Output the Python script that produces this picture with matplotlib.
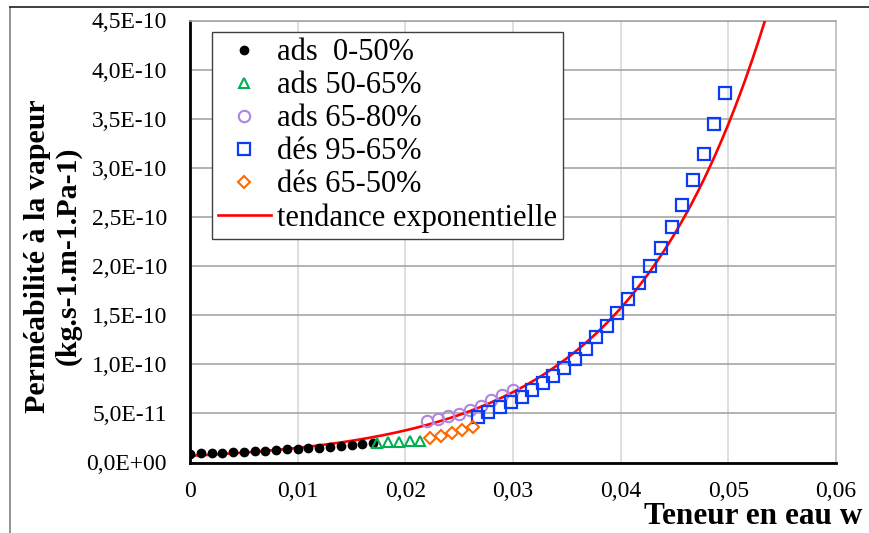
import numpy as np
import matplotlib
matplotlib.use('Agg')
import matplotlib.pyplot as plt
from matplotlib.lines import Line2D
from matplotlib.ticker import FixedLocator, FuncFormatter

plt.rcParams['font.family'] = ['Liberation Serif', 'DejaVu Serif']

### Data
# ads 0-50%
w_ads1 = [0.0, 0.001, 0.002, 0.003, 0.004, 0.005, 0.006, 0.007, 0.008,
          0.009, 0.010, 0.011, 0.012, 0.013, 0.014, 0.015, 0.016, 0.017]
p_ads1 = [8.7e-12, 9.4e-12, 9.7e-12, 1.00e-11, 1.04e-11, 1.10e-11, 1.17e-11, 1.20e-11, 1.27e-11,
          1.34e-11, 1.37e-11, 1.45e-11, 1.51e-11, 1.61e-11, 1.68e-11, 1.78e-11, 1.85e-11, 1.95e-11]

# ads 50-65%
w_ads2 = [0.0174, 0.0184, 0.0194, 0.0204, 0.0214]
p_ads2 = [2.0e-11, 2.05e-11, 2.1e-11, 2.15e-11, 2.2e-11]

# ads 65-80%
w_ads3 = [0.0220, 0.0230, 0.0240, 0.0250, 0.0260, 0.0270, 0.0280, 0.0290, 0.0300]
p_ads3 = [4.2e-11, 4.45e-11, 4.7e-11, 4.95e-11, 5.35e-11, 5.75e-11, 6.4e-11, 6.9e-11, 7.4e-11]

# des 95-65%
w_des1 = [0.02677, 0.02770, 0.02878, 0.02978, 0.03080, 0.03178, 0.03280, 0.03373,
          0.03472, 0.03575, 0.03674, 0.03774, 0.03874, 0.03967, 0.04070, 0.04169,
          0.04271, 0.04373, 0.04473, 0.04571, 0.04670, 0.04770, 0.04865, 0.04970]
p_des1 = [4.66e-11, 5.14e-11, 5.62e-11, 6.19e-11, 6.70e-11, 7.38e-11, 8.06e-11, 8.81e-11,
          9.65e-11, 1.054e-10, 1.152e-10, 1.278e-10, 1.392e-10, 1.524e-10, 1.667e-10, 1.830e-10,
          2.000e-10, 2.187e-10, 2.397e-10, 2.624e-10, 2.873e-10, 3.141e-10, 3.446e-10, 3.765e-10]

# des 65-50%
w_des2 = [0.0223, 0.0233, 0.0243, 0.0253, 0.0263]
p_des2 = [2.46e-11, 2.70e-11, 2.97e-11, 3.31e-11, 3.64e-11]

# exponential trend  P = a * exp(b * w)
trend_a = 6.8e-12
trend_b = 78.5

x_ticks = [0, 0.01, 0.02, 0.03, 0.04, 0.05, 0.06]
y_ticks = [0, 5e-11, 1e-10, 1.5e-10, 2e-10, 2.5e-10, 3e-10, 3.5e-10, 4e-10, 4.5e-10]


def fr_x(v, pos):
    if v == 0:
        return '0'
    return ('%.2f' % v).replace('.', ',')


def fr_y(v, pos):
    s = '%.1E' % v
    return s.replace('.', ',')


fig = plt.figure(figsize=(8.69, 5.33), dpi=100)
ax = fig.add_axes([190 / 869, 1 - 462.5 / 533, (836 - 190) / 869, (462.5 - 20.5) / 533])

# trend line
w_fit = np.linspace(0, 0.056, 400)
ax.plot(w_fit, trend_a * np.exp(trend_b * w_fit), color='#ff0000', lw=1.9, zorder=3,
        label='tendance exponentielle')

ax.plot(w_ads1, p_ads1, 'o', color='black', ms=6, zorder=4, label='ads  0-50%')
ax.plot(w_ads2, p_ads2, '^', mfc='none', mec='#00b050', mew=1.5, ms=7.8, zorder=4, label='ads 50-65%')
ax.plot(w_ads3, p_ads3, 'o', mfc='none', mec='#b084e0', mew=1.5, ms=8.2, zorder=4, label='ads 65-80%')
ax.plot(w_des1, p_des1, 's', mfc='none', mec='#0a3cf5', mew=1.6, ms=8, zorder=4, label='dés 95-65%')
ax.plot(w_des2, p_des2, 'D', mfc='none', mec='#ff6a00', mew=1.5, ms=6.2, zorder=4, label='dés 65-50%')

ax.set_xlim(0, 0.06)
ax.set_ylim(0, 4.5e-10)
ax.xaxis.set_major_locator(FixedLocator(x_ticks))
ax.yaxis.set_major_locator(FixedLocator(y_ticks))
ax.xaxis.set_major_formatter(FuncFormatter(fr_x))
ax.yaxis.set_major_formatter(FuncFormatter(fr_y))
ax.tick_params(axis='both', length=0, labelsize=17)
ax.tick_params(axis='y', pad=16.5)
ax.tick_params(axis='x', pad=13)

ax.grid(axis='y', color='#a6a6a6', lw=1.2)
ax.grid(axis='x', color='#d9d9d9', lw=1.2)
ax.set_axisbelow(True)
ax.spines['left'].set_linewidth(2)
ax.spines['bottom'].set_linewidth(2)
ax.spines['top'].set_color('#a6a6a6')
ax.spines['right'].set_color('#bfbfbf')
ax.spines['top'].set_linewidth(1.2)
ax.spines['right'].set_linewidth(1.2)

# legend in the same order as the reference
handles, labels = ax.get_legend_handles_labels()
order = [1, 2, 3, 4, 5, 0]
leg = ax.legend([handles[i] for i in order], [labels[i] for i in order],
                loc='upper left', bbox_to_anchor=(211.7 / 869, 1 - 32.3 / 533),
                bbox_transform=fig.transFigure, fontsize=22, frameon=True,
                fancybox=False, borderpad=0.2, labelspacing=0.13,
                handlelength=1.73, handletextpad=0.2, borderaxespad=0)
leg.get_frame().set_edgecolor('#404040')
leg.get_frame().set_linewidth(1.0)
leg.get_frame().set_alpha(1)

# axis titles
fig.text(53 / 869, 1 - 256 / 533, 'Perméabilité à la vapeur\n(kg.s-1.m-1.Pa-1)',
         rotation=90, ha='center', va='center', fontsize=21.5, fontweight='bold',
         linespacing=1.15)
fig.text(862 / 869, 1 - 517 / 533, 'Teneur en eau w', ha='right', va='center',
         fontsize=22.5, fontweight='bold')

# chart area border
fig.add_artist(Line2D([10 / 869, 10 / 869], [0, 1 - 7 / 533], transform=fig.transFigure,
                      color='#808080', lw=1.2))
fig.add_artist(Line2D([10 / 869, 1], [1 - 7 / 533, 1 - 7 / 533], transform=fig.transFigure,
                      color='#202020', lw=1.2))

plt.savefig('out.png', dpi=100)
plt.close()
